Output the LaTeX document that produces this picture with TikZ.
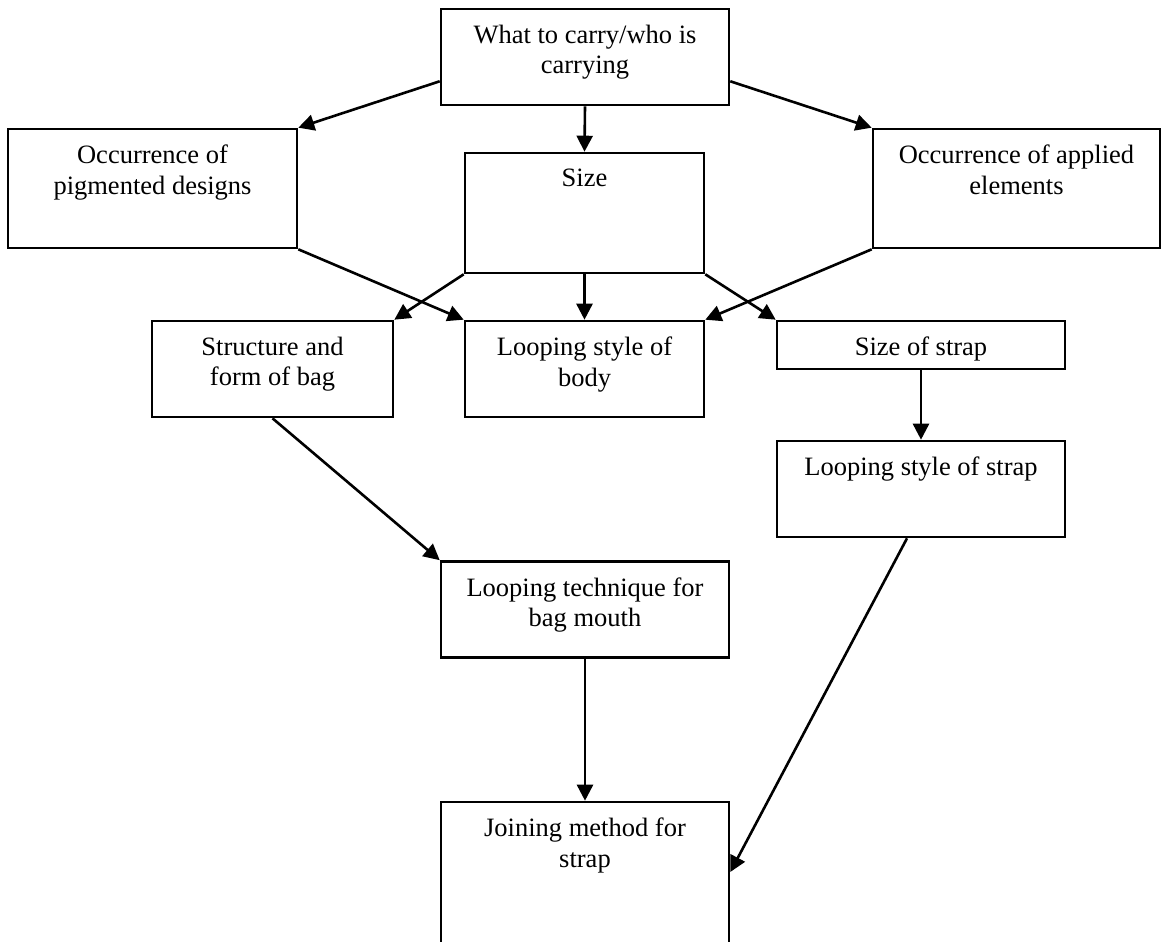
\documentclass[tikz,border=0pt]{standalone}
\usepackage{fontspec}
\setmainfont{Liberation Serif}
\usetikzlibrary{positioning,arrows.meta}
\begin{document}
\begin{tikzpicture}[
  x=0.5pt, y=-0.5pt,
  box/.style 2 args={rectangle, draw, line width=1.3pt, inner sep=0pt, minimum width=#1, minimum height=#2},
  txt/.style={align=center, inner sep=0pt, font=\fontsize{13.25pt}{15.25pt}\selectfont},
  link/.style={-{Triangle[length=8pt,width=8pt]}, line width=1.3pt}
]
\clip (0,0) rectangle (1163,942);
\fill[white] (0,0) rectangle (1163,942);

% boxes
\node[box={144pt}{48pt}] (carry) at (585,57) {};
\node[box={144.5pt}{59.5pt}] (pigm) at (152.5,188.5) {};
\node[box={119.5pt}{60pt}] (size) at (584.5,213) {};
\node[box={143.5pt}{59.5pt}] (appl) at (1016.5,188.5) {};
\node[box={120.5pt}{48pt}] (struct) at (272.5,369) {};
\node[box={119.5pt}{48pt}] (body) at (584.5,369) {};
\node[box={144pt}{24pt}] (sstrap) at (921,345) {};
\node[box={144pt}{48pt}] (lstrap) at (921,489) {};
\node[box={144pt}{48pt}] (mouth) at (585,609.5) {};
\node[box={144pt}{75pt}] (join) at (585,877) {};

% texts at the top of each box
\node[txt, below=8.5pt of carry.north] (carry-t) {What to carry/who is\\carrying};
\node[txt, below=8.5pt of pigm.north] (pigm-t) {Occurrence of\\pigmented designs};
\node[txt, below=8.5pt of size.north] (size-t) {Size};
\node[txt, below=8.5pt of appl.north] (appl-t) {Occurrence of applied\\elements};
\node[txt, below=8.5pt of struct.north] (struct-t) {Structure and\\form of bag};
\node[txt, below=8.5pt of body.north] (body-t) {Looping style of\\body};
\node[txt, below=8.5pt of sstrap.north] (sstrap-t) {Size of strap};
\node[txt, below=8.5pt of lstrap.north] (lstrap-t) {Looping style of strap};
\node[txt, below=8.5pt of mouth.north] (mouth-t) {Looping technique for\\bag mouth};
\node[txt, below=8.5pt of join.north] (join-t) {Joining method for\\strap};

% connectors
\draw[link] ([yshift=12.5pt]carry.south west) -- (pigm.north east);
\draw[link] ([yshift=12.5pt]carry.south east) -- (appl.north west);
\draw[link] (carry.south) -- (size.north);
\draw[link] (pigm.south east) -- (body.north west);
\draw[link] (appl.south west) -- (body.north east);
\draw[link] (size.south west) -- (struct.north east);
\draw[link] (size.south) -- (body.north);
\draw[link] (size.south east) -- (sstrap.north west);
\draw[link] (sstrap.south) -- (lstrap.north);
\draw[link] (struct.south) -- (mouth.north west);
\draw[link] (mouth.south) -- (join.north);
\draw[link] ([xshift=-7pt]lstrap.south) -- ([yshift=2.5pt]join.east);
\end{tikzpicture}
\end{document}
